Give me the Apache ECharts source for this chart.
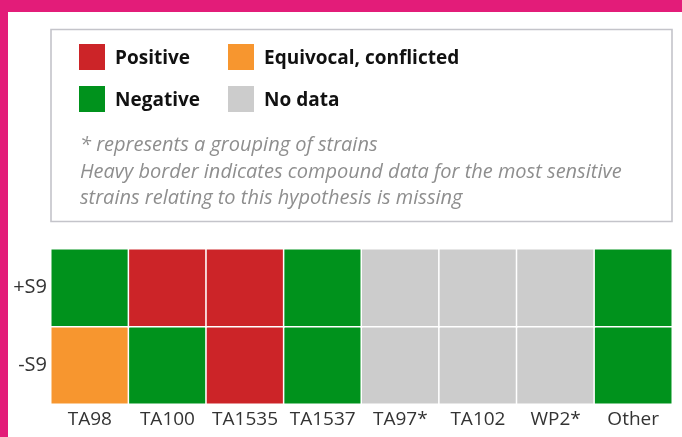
<!DOCTYPE html>
<html>
<head>
<meta charset="utf-8">
<script src="https://cdn.jsdelivr.net/npm/echarts@6/dist/echarts.min.js"></script>
<style>
html,body{margin:0;padding:0;background:#fff;}
#chart{width:682px;height:437px;}
</style>
</head>
<body>
<div id="chart"></div>
<script>
// ---- data ----
var strains = ['TA98','TA100','TA1535','TA1537','TA97*','TA102','WP2*','Other'];
var conditions = ['-S9','+S9']; // bottom to top
var statusNames = ['Positive','Equivocal, conflicted','Negative','No data'];
var statusColors = ['#cc2428','#f7962f','#00921c','#cccccc'];
// status index per strain: 0 Positive, 1 Equivocal, 2 Negative, 3 No data
var plusS9 = [2,0,0,2,3,3,3,2];
var minusS9 = [1,2,0,2,3,3,3,2];
var noteLines = [
  '* represents a grouping of strains',
  'Heavy border indicates compound data for the most sensitive',
  'strains relating to this hypothesis is missing'
];

var FONT = '"Open Sans", "Noto Sans", sans-serif';
var cells = [];
minusS9.forEach(function(v,i){ cells.push([i,0,v]); });
plusS9.forEach(function(v,i){ cells.push([i,1,v]); });

var graphics = [
  {type:'rect', shape:{x:0,y:0,width:682,height:12}, style:{fill:'#e31c79'}, silent:true},
  {type:'rect', shape:{x:0,y:0,width:8,height:437}, style:{fill:'#e31c79'}, silent:true},
  {type:'rect', shape:{x:51,y:29.5,width:621,height:192}, style:{fill:'#fff',stroke:'#c4c4ca',lineWidth:1.6}, silent:true}
];
var legPos = [[79,44],[228,44],[79,86],[228,86]];
var legOrder = [0,1,2,3];
legOrder.forEach(function(k,i){
  var p = legPos[i];
  graphics.push({type:'rect', shape:{x:p[0],y:p[1],width:26,height:26}, style:{fill:statusColors[k]}, silent:true});
  graphics.push({type:'text', x:p[0]+36, y:p[1]+15, style:{text:statusNames[k], fill:'#111', font:'bold 19px '+FONT, verticalAlign:'middle', align:'left'}, silent:true});
});
var noteY = [145,172,198];
noteLines.forEach(function(t,i){
  graphics.push({type:'text', x:80, y:noteY[i], style:{text:t, fill:'#8e8e8e', font:'italic 20px '+FONT, verticalAlign:'middle', align:'left'}, silent:true});
});

var chart = echarts.init(document.getElementById('chart'));
chart.setOption({
  animation:false,
  backgroundColor:'#fff',
  grid:{left:51, top:249, width:621, height:155, containLabel:false},
  xAxis:{type:'category', data:strains, axisLine:{show:false}, axisTick:{show:false}, splitLine:{show:false},
    axisLabel:{color:'#333', fontSize:19, fontFamily:FONT, margin:6, interval:0}},
  yAxis:{type:'category', data:conditions, axisLine:{show:false}, axisTick:{show:false}, splitLine:{show:false},
    axisLabel:{color:'#333', fontSize:20, fontFamily:FONT, margin:4}},
  visualMap:{type:'piecewise', show:false, dimension:2,
    pieces: statusNames.map(function(n,i){ return {value:i, label:n, color:statusColors[i]}; })},
  graphic: graphics,
  series:[{type:'heatmap', data:cells, itemStyle:{borderColor:'#fff', borderWidth:1.5}, emphasis:{disabled:true}}]
});
</script>
</body>
</html>
